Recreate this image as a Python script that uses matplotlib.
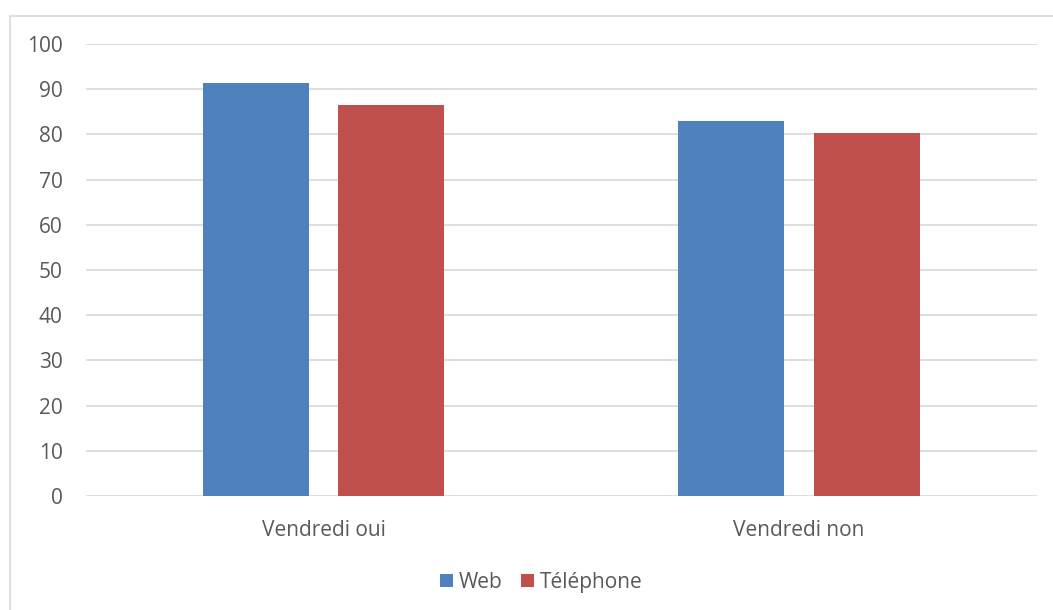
import matplotlib
matplotlib.use("Agg")
import matplotlib.pyplot as plt
from matplotlib.patches import Rectangle
import numpy as np

categories = ["Vendredi oui", "Vendredi non"]
series_names = ["Web", "Téléphone"]
web_values = [91.3, 83.0]
tel_values = [86.5, 80.2]
yticks = [0, 10, 20, 30, 40, 50, 60, 70, 80, 90, 100]

colors = ["#4F81BD", "#C0504D"]
text_color = "#595959"
grid_color = "#D9D9D9"
FS = 15

plt.rcParams['font.family'] = ['Open Sans', 'DejaVu Sans']

W, H = 1053, 610
fig = plt.figure(figsize=(W / 100, H / 100), dpi=100)
ax = fig.add_axes([85.75 / W, 1 - 496 / H, (1036.75 - 85.75) / W, (496 - 44) / H])

x = np.arange(len(categories))
width = 0.223
offset = 0.142
ax.bar(x - offset, web_values, width, color=colors[0], zorder=3)
ax.bar(x + offset, tel_values, width, color=colors[1], zorder=3)

ax.set_xlim(-0.5, len(categories) - 0.5)
ax.set_ylim(0, 100)
ax.set_yticks(yticks)
ax.set_yticklabels([str(v) for v in yticks])
ax.set_xticks(x)
ax.set_xticklabels(categories)
ax.yaxis.grid(True, color=grid_color, linewidth=1.2, zorder=0)
ax.tick_params(axis='both', length=0, colors=text_color, labelsize=FS)
ax.tick_params(axis='y', pad=16.5)
ax.tick_params(axis='x', pad=17)
for s in ax.spines.values():
    s.set_visible(False)

# outer frame
frame = Rectangle((9.5 / W, -0.1), 1.2, 1 - 15.5 / H + 0.1, transform=fig.transFigure,
                  fill=False, edgecolor=grid_color, linewidth=1.2)
fig.add_artist(frame)

# legend drawn manually in figure pixel coordinates
leg_y = 580
sq = 13
entries = [(440, 459), (521, 540)]
for (sx, tx), name, c in zip(entries, series_names, colors):
    fig.add_artist(Rectangle((sx / W, 1 - (leg_y + sq / 2) / H), sq / W, sq / H,
                             transform=fig.transFigure, facecolor=c, edgecolor='none'))
    fig.text(tx / W, 1 - leg_y / H, name, color=text_color, fontsize=FS,
             ha='left', va='center_baseline')

fig.savefig("out.png", dpi=100)
